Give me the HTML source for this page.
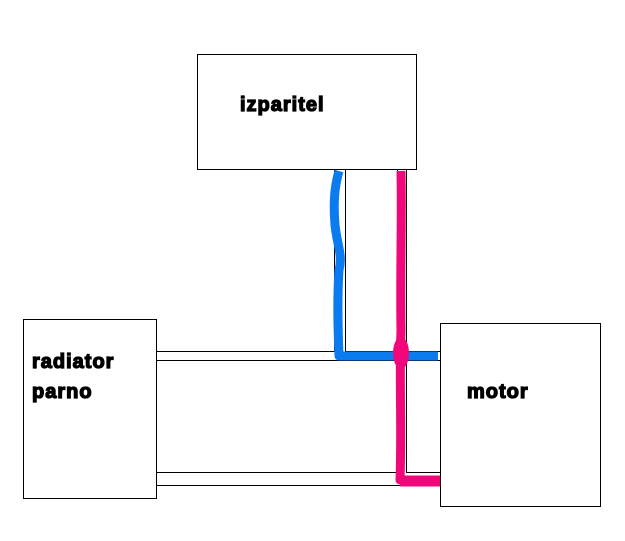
<!DOCTYPE html>
<html><head><meta charset="utf-8"><style>
html,body{margin:0;padding:0;background:#fff;}
svg{display:block;}
text{font-family:"Liberation Sans",Arial,sans-serif;font-weight:bold;font-size:20px;fill:#000;stroke:#000;stroke-width:1.3px;letter-spacing:1px;paint-order:stroke;}
</style></head><body>
<svg width="625" height="541" viewBox="0 0 625 541" xmlns="http://www.w3.org/2000/svg">
<g fill="none" stroke="#000" stroke-width="1">
<rect x="197.5" y="54.5" width="219" height="115"/>
<rect x="23.5" y="319.5" width="133" height="179"/>
<rect x="440.5" y="323.5" width="160" height="183"/>
<path d="M156.5 351.5 H334.5 V169.5 M345.5 169.5 V351.5 H440.5 M156.5 360.5 H397.5 M406.5 360.5 H440.5"/>
<path d="M397.5 169.5 V472.5 H156.5 M406.5 169.5 V472.5 H440.5 M156.5 485.5 H440.5"/>
</g>
<path d="M339 171 C335 185,333 200,335 225 C337 245,343 255,339 270 C337 300,338 330,339 356 L438 356" fill="none" stroke="#0a7cf0" stroke-width="9" stroke-linejoin="round"/>
<path d="M401 171 C402 220,400 280,401 330 C399 380,402 420,400 480 L440 481" fill="none" stroke="#f0087a" stroke-width="9" stroke-linejoin="round"/>
<ellipse cx="401" cy="353" rx="8" ry="16" fill="#f0087a"/>
<path d="M400 481 L440 481" stroke="#f0087a" stroke-width="11"/>
<text x="240" y="111">izparitel</text>
<text x="32" y="368">radiator</text>
<text x="32" y="398">parno</text>
<text x="467" y="398">motor</text>
</svg>
</body></html>
